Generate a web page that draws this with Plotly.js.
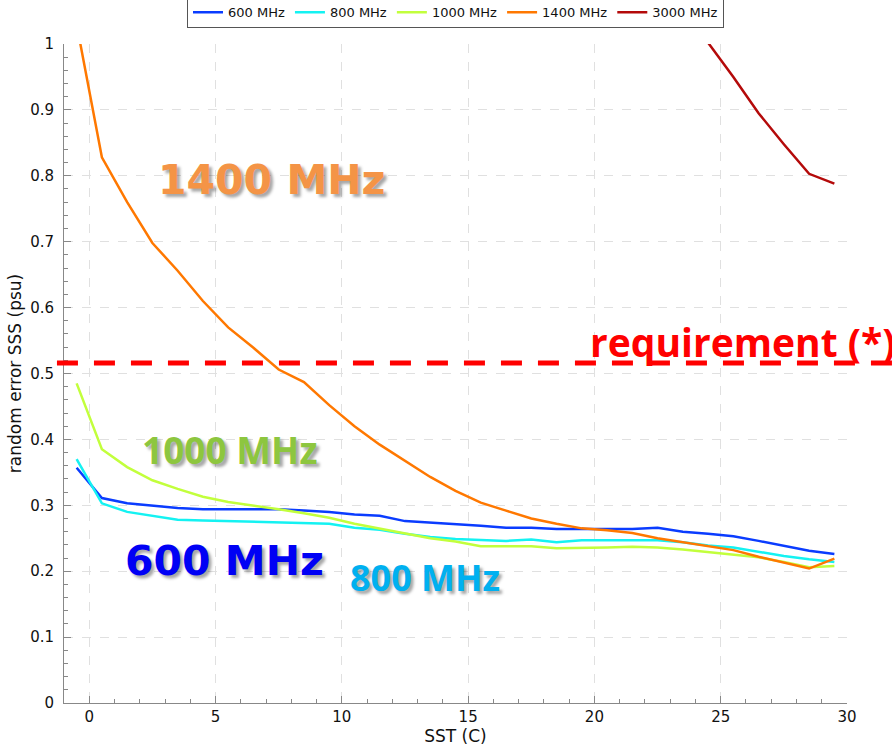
<!DOCTYPE html>
<html>
<head>
<meta charset="utf-8">
<script src="https://cdn.plot.ly/plotly-3.0.1.min.js"></script>
<style>
  html, body { margin: 0; padding: 0; background: #fff; }
  #chart { width: 892px; height: 749px; }
</style>
</head>
<body>
<div id="chart"></div>
<script>
// Sea surface temperature bins (deg C), bin centres
const sst = [-0.5, 0.5, 1.5, 2.5, 3.5, 4.5, 5.5, 6.5, 7.5, 8.5, 9.5,
             10.5, 11.5, 12.5, 13.5, 14.5, 15.5, 16.5, 17.5, 18.5, 19.5,
             20.5, 21.5, 22.5, 23.5, 24.5, 25.5, 26.5, 27.5, 28.5, 29.5];

// Random error of retrieved SSS (psu) per frequency
const err600 = [0.357, 0.311, 0.303, 0.299, 0.296, 0.294, 0.294, 0.294, 0.294, 0.292, 0.290,
                0.286, 0.284, 0.276, 0.274, 0.272, 0.269, 0.266, 0.266, 0.264, 0.264,
                0.264, 0.264, 0.266, 0.260, 0.257, 0.253, 0.246, 0.238, 0.231, 0.226];
const err800 = [0.370, 0.303, 0.290, 0.284, 0.278, 0.277, 0.276, 0.275, 0.275, 0.274, 0.272,
                0.266, 0.263, 0.257, 0.252, 0.249, 0.247, 0.246, 0.248, 0.244, 0.247,
                0.247, 0.247, 0.247, 0.244, 0.239, 0.236, 0.229, 0.223, 0.218, 0.214];
const err1000 = [0.485, 0.385, 0.358, 0.338, 0.325, 0.313, 0.305, 0.300, 0.294, 0.288, 0.281,
                 0.272, 0.265, 0.258, 0.250, 0.245, 0.238, 0.238, 0.238, 0.235, 0.235,
                 0.236, 0.237, 0.236, 0.233, 0.229, 0.225, 0.221, 0.214, 0.206, 0.208];
const err1400 = [1.030, 0.828, 0.760, 0.698, 0.656, 0.610, 0.570, 0.539, 0.506, 0.487, 0.452,
                 0.420, 0.392, 0.367, 0.343, 0.322, 0.304, 0.292, 0.280, 0.272, 0.265,
                 0.262, 0.258, 0.250, 0.244, 0.238, 0.232, 0.222, 0.213, 0.204, 0.219];
const sst3000 = [24.5, 25.5, 26.5, 27.5, 28.5, 29.5];
const err3000 = [1.002, 0.950, 0.895, 0.848, 0.803, 0.788];

const seriesNames = ['600 MHz', '800 MHz', '1000 MHz', '1400 MHz', '3000 MHz'];
const seriesColors = ['#0a3cff', '#14f2f2', '#c2ff3c', '#ff7800', '#b40a0a'];

// Mission requirement on the SSS random error (psu)
const REQUIREMENT = 0.516;

const xs = [sst, sst, sst, sst, sst3000];
const ys = [err600, err800, err1000, err1400, err3000];

const traces = ys.map((y, i) => ({
  type: 'scatter',
  mode: 'lines',
  x: xs[i],
  y: y,
  name: seriesNames[i],
  line: { color: seriesColors[i], width: 2.5 }
}));

const shadow = '3px 3px 3px rgba(0,0,0,0.35)';
const heavy = { family: 'DejaVu Sans', weight: 'bold', shadow: shadow };
const soft = { family: 'Open Sans', weight: 'bold', shadow: shadow };

const layout = {
  width: 892,
  height: 749,
  margin: { l: 64, r: 45, t: 44, b: 46, autoexpand: false },
  paper_bgcolor: '#ffffff',
  plot_bgcolor: '#ffffff',
  font: { family: 'DejaVu Sans', color: '#111111' },
  showlegend: true,
  legend: {
    orientation: 'h',
    x: 0.5, xanchor: 'center',
    y: 1.024, yanchor: 'bottom',
    bordercolor: '#555555', borderwidth: 1,
    bgcolor: '#ffffff',
    font: { size: 13, family: 'DejaVu Sans', color: '#111' },
    itemwidth: 30
  },
  xaxis: {
    range: [-1, 30],
    tick0: 0, dtick: 5,
    ticks: 'inside', ticklen: 7, tickcolor: '#888888',
    minor: { dtick: 1, ticks: 'inside', ticklen: 4, tickcolor: '#888888', showgrid: false },
    showline: true, linecolor: '#888888', linewidth: 1,
    showgrid: true, gridcolor: '#e0e0e0', griddash: 'dash', gridwidth: 1,
    zeroline: false,
    tickfont: { size: 15 },
    title: { text: 'SST (C)', font: { size: 17 }, standoff: 2 }
  },
  yaxis: {
    range: [0, 1],
    tick0: 0, dtick: 0.1,
    ticks: 'inside', ticklen: 7, tickcolor: '#888888',
    minor: { dtick: 0.02, ticks: 'inside', ticklen: 4, tickcolor: '#888888', showgrid: false },
    showline: true, linecolor: '#888888', linewidth: 1,
    showgrid: true, gridcolor: '#e0e0e0', griddash: 'dash', gridwidth: 1,
    zeroline: false,
    tickfont: { size: 15 },
    ticklabelstandoff: 6,
    title: { text: 'random error SSS (psu)', font: { size: 17 }, standoff: 4 }
  },
  shapes: [{
    type: 'line', layer: 'above',
    xref: 'paper', yref: 'paper',
    x0: -0.009, x1: 1.06,
    y0: REQUIREMENT, y1: REQUIREMENT,
    line: { color: '#ff0000', width: 5, dash: '21px,16px' }
  }],
  annotations: [
    { x: 7.2, y: 0.794, xref: 'x', yref: 'y', text: '1400 MHz', showarrow: false,
      font: Object.assign({ size: 41, color: '#f49446' }, heavy) },
    { x: 5.55, y: 0.384, xref: 'x', yref: 'y', text: '1000 MHz', showarrow: false,
      font: Object.assign({ size: 37, color: '#8dc63f' }, soft) },
    { x: 5.34, y: 0.216, xref: 'x', yref: 'y', text: '600 MHz', showarrow: false,
      font: Object.assign({ size: 41, color: '#0000f5' }, heavy) },
    { x: 13.3, y: 0.19, xref: 'x', yref: 'y', text: '800 MHz', showarrow: false,
      font: Object.assign({ size: 36, color: '#00b0f0' }, soft) },
    { x: 19.75, y: 0.549, xref: 'x', yref: 'y', xanchor: 'left', yanchor: 'middle',
      text: 'requirement (*)', showarrow: false,
      font: { family: 'Open Sans', weight: 'bold', size: 39, color: '#ff0000' } }
  ]
};

Plotly.newPlot('chart', traces, layout, { displayModeBar: false, staticPlot: true });
</script>
</body>
</html>
